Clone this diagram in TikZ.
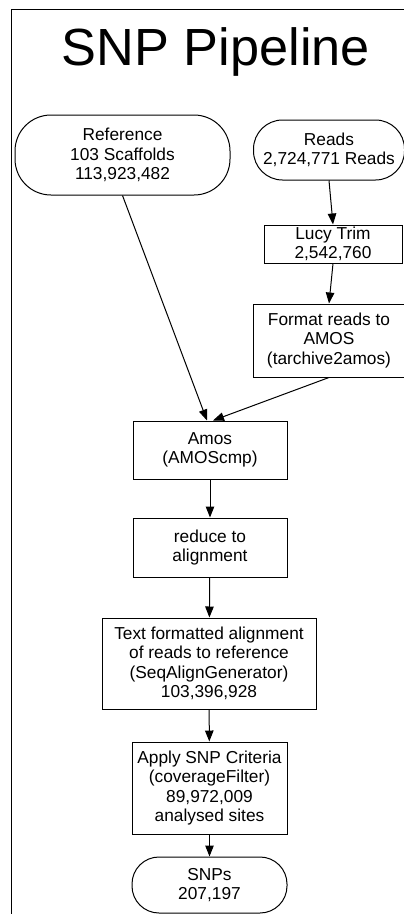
\documentclass[tikz,border=0pt]{standalone}
\usepackage{fontspec}
\setmainfont{Liberation Sans}
\usetikzlibrary{arrows.meta}

\begin{document}
\begin{tikzpicture}[x=1pt, y=-1pt, line width=1pt,
    >={Triangle[length=11pt,width=8.5pt]},
    every node/.style={font=\fontsize{17.3}{19.5}\selectfont, align=center, inner sep=0pt},
    stepbox/.style={draw, rectangle},
    endpill/.style={draw, rounded corners=28pt}]
    \useasboundingbox (0,0) rectangle (404,914);
    \clip (0,0) rectangle (404,914);

    % frame and heading
    \draw (420,9) -- (11,9) -- (11,930);
    \node[font=\fontsize{52.3}{60}\selectfont, anchor=base] (title) at (216,65) {SNP Pipeline};

    % inputs
    \node[endpill, rounded corners=36pt, minimum width=215pt, minimum height=80pt] (refpill) at (122.5,155) {Reference\\103 Scaffolds\\113,923,482};
    \node[endpill, rounded corners=29pt, minimum width=151pt, minimum height=60pt] (readspill) at (329,150) {Reads\\2,724,771 Reads};

    % read preparation
    \node[stepbox, minimum width=138pt, minimum height=38pt] (lucy) at (333,244) {Lucy Trim\\2,542,760};
    \node[stepbox, minimum width=152pt, minimum height=73pt] (fmt) at (329,340.5) {Format reads to\\AMOS\\(tarchive2amos)};

    % alignment and filtering
    \node[stepbox, minimum width=154pt, minimum height=58pt] (amos) at (210,450) {Amos\\(AMOScmp)};
    \node[stepbox, minimum width=154pt, minimum height=59pt] (reduce) at (210,547.5) {reduce to\\alignment};
    \node[stepbox, minimum width=214pt, minimum height=91pt] (textaln) at (209,663.5) {Text formatted alignment\\of reads to reference\\(SeqAlignGenerator)\\103,396,928};
    \node[stepbox, minimum width=155pt, minimum height=92pt] (criteria) at (209.5,788) {Apply SNP Criteria\\(coverageFilter)\\89,972,009\\analysed sites};
    \node[endpill, rounded corners=27pt, minimum width=155pt, minimum height=56pt] (snps) at (209.5,885) {SNPs\\207,197};

    \draw[->] (refpill.south) -- ([xshift=-3pt]amos.north);
    \draw[->] (readspill.south) -- (lucy.north);
    \draw[->] (lucy.south) -- (fmt.north);
    \draw[->] (fmt.south) -- ([xshift=3pt]amos.north);
    \draw[->] (amos) -- (reduce);
    \draw[->] (reduce) -- (textaln);
    \draw[->] (textaln) -- (criteria);
    \draw[->] (criteria) -- (snps);
\end{tikzpicture}
\end{document}
